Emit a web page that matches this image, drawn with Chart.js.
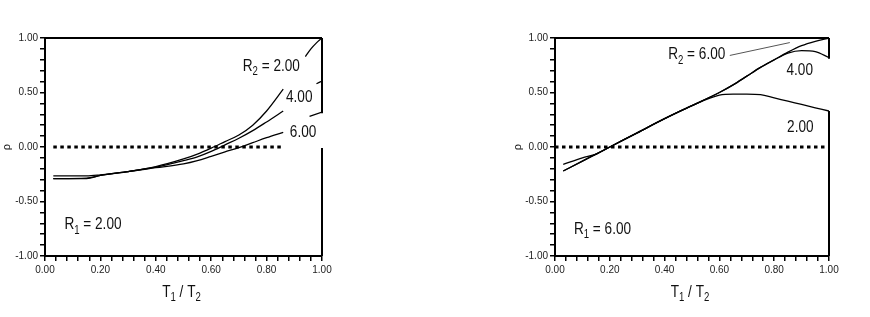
<!DOCTYPE html>
<html>
<head>
<meta charset="utf-8">
<script src="https://cdn.jsdelivr.net/npm/chart.js@4.4.1/dist/chart.umd.min.js"></script>
<style>
	body { margin: 0; background: #fff; }
	#wrap { position: relative; width: 870px; height: 317px; background: #fff; }
	canvas { position: absolute; top: 0; }
</style>
</head>
<body>
<div id="wrap">
	<canvas id="leftChart" width="435" height="317" style="left:0"></canvas>
	<canvas id="rightChart" width="435" height="317" style="left:435px"></canvas>
</div>
<script>
// tick labels
var X_LABELS = ['0.00', '0.20', '0.40', '0.60', '0.80', '1.00'];
var Y_LABELS = ['-1.00', '-0.50', '0.00', '0.50', '1.00'];

// left panel, R1 = 2.00
var LEFT_X = [0.03, 0.15, 0.2, 0.3, 0.4, 0.5, 0.55, 0.6, 0.65, 0.7, 0.75, 0.8, 0.86];
var LEFT_R2_200 = [-0.29, -0.29, -0.26, -0.225, -0.18, -0.11, -0.065, -0.01, 0.05, 0.11, 0.2, 0.33, 0.53];
var LEFT_R2_400 = [-0.29, -0.285, -0.26, -0.225, -0.185, -0.125, -0.09, -0.04, 0.02, 0.08, 0.15, 0.23, 0.33];
var LEFT_R2_600 = [-0.265, -0.265, -0.255, -0.225, -0.19, -0.155, -0.125, -0.085, -0.045, -0.005, 0.04, 0.085, 0.135];
// pieces of the curves that show again at the right edge
var LEFT_EDGE_X_200 = [0.94, 0.96, 0.98, 1.0];
var LEFT_EDGE_200 = [0.83, 0.9, 0.955, 1.0];
var LEFT_EDGE_X_400 = [0.98, 1.0];
var LEFT_EDGE_400 = [0.58, 0.605];
var LEFT_EDGE_X_600 = [0.955, 1.0];
var LEFT_EDGE_600 = [0.28, 0.32];
var LEFT_ZERO_X = [0.03, 0.855];

// right panel, R1 = 6.00
var RIGHT_X = [0.03, 0.1, 0.15, 0.2, 0.3, 0.4, 0.5, 0.6, 0.65, 0.7, 0.75, 0.8, 0.85, 0.9, 0.95, 1.0];
var RIGHT_R2_600 = [-0.22, -0.13, -0.065, 0.0, 0.13, 0.26, 0.38, 0.50, 0.57, 0.65, 0.73, 0.80, 0.87, 0.93, 0.97, 1.0];
var RIGHT_R2_400 = [-0.22, -0.13, -0.065, 0.0, 0.13, 0.26, 0.38, 0.50, 0.57, 0.65, 0.73, 0.80, 0.862, 0.885, 0.875, 0.82];
var RIGHT_R2_200 = [-0.16, -0.10, -0.065, 0.0, 0.13, 0.26, 0.38, 0.475, 0.485, 0.485, 0.48, 0.45, 0.42, 0.39, 0.36, 0.33];
var RIGHT_ZERO_X = [0.0, 1.0];
var RIGHT_LEADER_X = [0.638, 0.857];
var RIGHT_LEADER_Y = [0.84, 0.958];

var FONT = '"Liberation Sans", Arial, sans-serif';
var SQUEEZE = 0.8;
var LABEL_SIZE = 17;

function toPoints(xs, ys) {
	var pts = [];
	for (var i = 0; i < xs.length; i++) {
		pts.push({x: xs[i], y: ys[i]});
	}
	return pts;
}

// main curve + gap + piece at the edge
function joinPieces(xa, ya, xb, yb) {
	var pts = toPoints(xa, ya);
	pts.push({x: (xa[xa.length - 1] + xb[0]) / 2, y: null});
	return pts.concat(toPoints(xb, yb));
}

function curve(data) {
	return {
		data: data,
		borderColor: '#000',
		borderWidth: 1.3,
		pointRadius: 0,
		cubicInterpolationMode: 'monotone',
		spanGaps: false
	};
}

function zeroLine(xs) {
	return {
		data: toPoints(xs, xs.map(function() { return 0; })),
		borderColor: '#000',
		borderWidth: 3,
		borderDash: [3.5, 3.5],
		pointRadius: 0
	};
}

// text with a subscript, drawn from the left baseline, a little condensed
function drawSubText(ctx, parts, x, y, size) {
	var cx = 0;
	ctx.save();
	ctx.translate(x, y);
	ctx.scale(SQUEEZE, 1);
	parts.forEach(function(p) {
		if (p.sub) {
			ctx.font = Math.round(size * 0.68) + 'px ' + FONT;
			ctx.fillText(p.text, cx, size * 0.25);
		} else {
			ctx.font = size + 'px ' + FONT;
			ctx.fillText(p.text, cx, 0);
		}
		cx += ctx.measureText(p.text).width;
	});
	ctx.restore();
	return cx * SQUEEZE;
}

function subTextWidth(ctx, parts, size) {
	var w = 0;
	parts.forEach(function(p) {
		ctx.font = (p.sub ? Math.round(size * 0.68) : size) + 'px ' + FONT;
		w += ctx.measureText(p.text).width;
	});
	return w * SQUEEZE;
}

var panelPlugin = {
	id: 'panel',
	afterDraw: function(chart) {
		var o = chart.options.plugins.panel;
		var ctx = chart.ctx;
		var area = chart.chartArea;
		var xs = chart.scales.x, ys = chart.scales.y;
		ctx.save();
		ctx.strokeStyle = '#000';
		ctx.lineWidth = 2;
		// top and right frame lines
		ctx.beginPath();
		ctx.moveTo(area.left, area.top);
		ctx.lineTo(area.right, area.top);
		o.rightBorder.forEach(function(r) {
			ctx.moveTo(area.right, ys.getPixelForValue(r[0]));
			ctx.lineTo(area.right, ys.getPixelForValue(r[1]));
		});
		ctx.stroke();

		ctx.fillStyle = '#111';
		ctx.textBaseline = 'alphabetic';
		ctx.textAlign = 'left';
		o.labels.forEach(function(l) {
			drawSubText(ctx, l.parts, xs.getPixelForValue(l.x), ys.getPixelForValue(l.y), LABEL_SIZE);
		});

		// x title T1 / T2
		var title = [{text: 'T'}, {text: '1', sub: true}, {text: ' / T'}, {text: '2', sub: true}];
		var w = subTextWidth(ctx, title, LABEL_SIZE);
		drawSubText(ctx, title, (area.left + area.right) / 2 - w / 2 - 2, 297, LABEL_SIZE);

		// y title
		ctx.translate(o.rhoX, (area.top + area.bottom) / 2);
		ctx.rotate(-Math.PI / 2);
		ctx.font = '11px ' + FONT;
		ctx.textAlign = 'center';
		ctx.textBaseline = 'middle';
		ctx.fillText('\u03C1', 0, 0);
		ctx.restore();
	}
};

function makeChart(id, datasets, yWidth, padRight, panel) {
	var ctx = document.getElementById(id).getContext('2d');
	return new Chart(ctx, {
		type: 'line',
		data: {datasets: datasets},
		options: {
			responsive: false,
			animation: false,
			devicePixelRatio: 1,
			layout: {padding: {top: 38, right: padRight, left: 0, bottom: 0}},
			plugins: {
				legend: {display: false},
				tooltip: {enabled: false},
				panel: panel
			},
			scales: {
				x: {
					type: 'linear',
					min: 0,
					max: 1,
					afterFit: function(scale) { scale.height = 61; },
					border: {display: true, color: '#000', width: 2},
					grid: {drawOnChartArea: false, drawTicks: true, tickLength: 5, color: '#000', lineWidth: 1.5},
					ticks: {
						stepSize: 0.04,
						maxTicksLimit: 100,
						autoSkip: false,
						maxRotation: 0,
						padding: 3,
						color: '#222',
						font: {family: FONT, size: 10},
						callback: function(v) {
							var k = Math.round(v * 100);
							return k % 20 === 0 ? X_LABELS[k / 20] : '';
						}
					}
				},
				y: {
					min: -1,
					max: 1,
					afterFit: function(scale) { scale.width = yWidth; },
					border: {display: true, color: '#000', width: 2},
					grid: {drawOnChartArea: false, drawTicks: true, tickLength: 5, color: '#000', lineWidth: 1.5},
					ticks: {
						stepSize: 0.1,
						maxTicksLimit: 100,
						autoSkip: false,
						padding: 2,
						color: '#222',
						font: {family: FONT, size: 10},
						callback: function(v) {
							var k = Math.round(v * 10) + 10;
							return k % 5 === 0 ? Y_LABELS[k / 5] : '';
						}
					}
				}
			}
		},
		plugins: [panelPlugin]
	});
}

makeChart('leftChart', [
	curve(joinPieces(LEFT_X, LEFT_R2_200, LEFT_EDGE_X_200, LEFT_EDGE_200)),
	curve(joinPieces(LEFT_X, LEFT_R2_400, LEFT_EDGE_X_400, LEFT_EDGE_400)),
	curve(joinPieces(LEFT_X, LEFT_R2_600, LEFT_EDGE_X_600, LEFT_EDGE_600)),
	zeroLine(LEFT_ZERO_X)
], 45, 113, {
	rhoX: 7,
	rightBorder: [[0.31, 1.0], [-1.0, -0.01]],
	labels: [
		{x: 0.714, y: 0.70, parts: [{text: 'R'}, {text: '2', sub: true}, {text: ' = 2.00'}]},
		{x: 0.87, y: 0.41, parts: [{text: '4.00'}]},
		{x: 0.884, y: 0.095, parts: [{text: '6.00'}]},
		{x: 0.07, y: -0.755, parts: [{text: 'R'}, {text: '1', sub: true}, {text: ' = 2.00'}]}
	]
});

makeChart('rightChart', [
	curve(toPoints(RIGHT_X, RIGHT_R2_600)),
	curve(toPoints(RIGHT_X, RIGHT_R2_400)),
	curve(toPoints(RIGHT_X, RIGHT_R2_200)),
	zeroLine(RIGHT_ZERO_X),
	{
		data: toPoints(RIGHT_LEADER_X, RIGHT_LEADER_Y),
		borderColor: '#555',
		borderWidth: 1,
		pointRadius: 0
	}
], 120, 41, {
	rhoX: 83,
	rightBorder: [[0.81, 1.0], [-1.0, 0.33]],
	labels: [
		{x: 0.413, y: 0.804, parts: [{text: 'R'}, {text: '2', sub: true}, {text: ' = 6.00'}]},
		{x: 0.845, y: 0.657, parts: [{text: '4.00'}]},
		{x: 0.847, y: 0.141, parts: [{text: '2.00'}]},
		{x: 0.069, y: -0.80, parts: [{text: 'R'}, {text: '1', sub: true}, {text: ' = 6.00'}]}
	]
});
</script>
</body>
</html>
